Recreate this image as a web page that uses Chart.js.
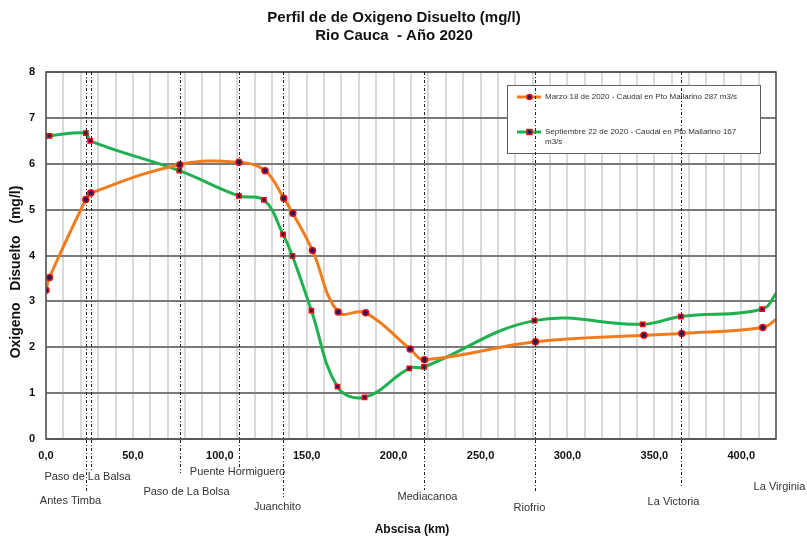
<!DOCTYPE html>
<html>
<head>
<meta charset="utf-8">
<script src="https://cdn.jsdelivr.net/npm/chart.js@4.4.1/dist/chart.umd.min.js"></script>
<style>
  html, body { margin: 0; padding: 0; background: #fff; }
  #wrap { width: 807px; height: 541px; position: relative; }
</style>
</head>
<body>
<div id="wrap"><canvas id="odChart"></canvas></div>
<script>
// Perfil de OD - Rio Cauca 2020
const titleLines = ['Perfil de de Oxigeno Disuelto (mg/l)', 'Rio Cauca  - Año 2020'];
const xTitle = 'Abscisa (km)';
const yTitle = 'Oxigeno   Disuelto   (mg/l)';

const marchLabel = 'Marzo 18 de 2020 - Caudal en Pto Mallarino 287 m3/s';
const marchKm = [0, 2, 22.9, 25.8, 77, 111, 126, 136.8, 142, 153.3, 168.1, 183.9, 209.5, 217.7, 281.6, 344, 365.8, 412.4, 420.6];
const marchOD = [3.24, 3.52, 5.22, 5.36, 5.98, 6.03, 5.85, 5.25, 4.92, 4.11, 2.77, 2.75, 1.96, 1.73, 2.12, 2.26, 2.30, 2.43, 2.62];

const septLabel = 'Septiembre 22 de 2020 - Caudal en Pto Mallarino 167 m3/s';
const septKm = [0, 2, 22.9, 25.4, 76.7, 111, 125.4, 136.4, 141.8, 152.7, 167.7, 183.3, 209, 217.5, 281, 343.3, 365.3, 412, 420.6];
const septOD = [6.61, 6.61, 6.67, 6.50, 5.85, 5.30, 5.21, 4.46, 3.99, 2.80, 1.14, 0.91, 1.54, 1.57, 2.58, 2.50, 2.67, 2.83, 3.20];

const stationNames = ['Antes Timba', 'Paso de La Balsa', 'Paso de La Bolsa', 'Puente Hormiguero', 'Juanchito', 'Mediacanoa', 'Riofrio', 'La Victoria', 'La Virginia'];
const stationKm = [22.9, 25.8, 77, 111, 136.2, 217.5, 281.5, 365.5, 420];

const FONT = '"Liberation Sans", Arial, sans-serif';
const ORANGE = '#f07c1e';
const GREEN = '#1fb14f';
const MARK_FILL = '#1b1b63';
const MARK_EDGE = '#e01010';

// label placement for each station: [dx, label y, line end y]
const stationPlace = [
  [-16, 501, 493],
  [-4, 477, 472],
  [6, 492, 473],
  [-2, 472, 468],
  [-6, 507, 497],
  [3, 497, 490],
  [-6, 508, 493],
  [-8, 502, 487],
  [3, 487, 0]
];

function toPoints(xs, ys) {
  return xs.map((x, i) => ({ x: x, y: ys[i] }));
}

const lastHidden = (n) => (ctx) => ctx.dataIndex === n - 1 ? 0 : 3;

const overlay = {
  id: 'overlay',
  afterDatasetsDraw(chart) {
    const { ctx, chartArea: a, scales } = chart;
    const xs = scales.x;

    // plot frame
    ctx.save();
    ctx.strokeStyle = '#505050';
    ctx.lineWidth = 1.5;
    ctx.strokeRect(a.left, a.top, a.right - a.left, a.bottom - a.top);

    // legend box
    const lx = 507, ly = 85, lw = 253, lh = 68;
    ctx.fillStyle = '#fff';
    ctx.fillRect(lx, ly, lw, lh);
    ctx.strokeStyle = '#606060';
    ctx.lineWidth = 1;
    ctx.strokeRect(lx + 0.5, ly + 0.5, lw, lh);
    const rows = [
      { color: ORANGE, y: 97, lines: [marchLabel], style: 'circle' },
      { color: GREEN, y: 132, lines: ['Septiembre 22 de 2020 - Caudal en Pto Mallarino 167', 'm3/s'], style: 'rect' }
    ];
    ctx.font = '8px ' + FONT;
    ctx.textBaseline = 'middle';
    ctx.textAlign = 'left';
    rows.forEach(r => {
      ctx.strokeStyle = r.color;
      ctx.lineWidth = 3;
      ctx.beginPath();
      ctx.moveTo(517, r.y);
      ctx.lineTo(541, r.y);
      ctx.stroke();
      ctx.fillStyle = MARK_FILL;
      ctx.strokeStyle = MARK_EDGE;
      ctx.lineWidth = 1.5;
      if (r.style === 'rect') {
        ctx.fillRect(527, r.y - 2.5, 5, 5);
        ctx.strokeRect(527, r.y - 2.5, 5, 5);
      } else {
        ctx.beginPath();
        ctx.arc(529.5, r.y, 2.5, 0, Math.PI * 2);
        ctx.fill();
        ctx.stroke();
      }
      ctx.fillStyle = '#333';
      r.lines.forEach((t, i) => ctx.fillText(t, 545, r.y + i * 10));
    });

    // station lines and names
    ctx.font = '11px ' + FONT;
    ctx.textAlign = 'center';
    stationKm.forEach((km, i) => {
      const px = Math.round(xs.getPixelForValue(km)) + 0.5;
      const [dx, ty, endY] = stationPlace[i];
      if (endY > 0) {
        ctx.strokeStyle = '#202020';
        ctx.lineWidth = 1;
        ctx.setLineDash([3, 2, 1, 2]);
        ctx.beginPath();
        ctx.moveTo(px, a.top);
        ctx.lineTo(px, endY);
        ctx.stroke();
        ctx.setLineDash([]);
      }
      ctx.fillStyle = '#333';
      ctx.fillText(stationNames[i], px + dx, ty);
    });

    // titles
    ctx.fillStyle = '#111';
    ctx.font = 'bold 15px ' + FONT;
    ctx.fillText(titleLines[0], 394, 18);
    ctx.fillText(titleLines[1], 394, 36);
    ctx.font = 'bold 12px ' + FONT;
    ctx.fillText(xTitle, 412, 530);
    ctx.font = 'bold 14px ' + FONT;
    ctx.translate(16, 272);
    ctx.rotate(-Math.PI / 2);
    ctx.fillText(yTitle, 0, 0);
    ctx.restore();
  }
};

new Chart(document.getElementById('odChart'), {
  type: 'line',
  data: {
    datasets: [
      {
        label: marchLabel,
        data: toPoints(marchKm, marchOD),
        borderColor: ORANGE,
        borderWidth: 3,
        tension: 0.4,
        pointStyle: 'circle',
        pointRadius: lastHidden(marchKm.length),
        pointBackgroundColor: MARK_FILL,
        pointBorderColor: MARK_EDGE,
        pointBorderWidth: 1.5
      },
      {
        label: septLabel,
        data: toPoints(septKm, septOD),
        borderColor: GREEN,
        borderWidth: 3,
        tension: 0.4,
        pointStyle: 'rect',
        pointRadius: lastHidden(septKm.length),
        pointBackgroundColor: MARK_FILL,
        pointBorderColor: MARK_EDGE,
        pointBorderWidth: 1.5
      }
    ]
  },
  options: {
    responsive: true,
    maintainAspectRatio: false,
    animation: false,
    layout: { padding: { top: 72, right: 31, left: 0, bottom: 0 } },
    plugins: {
      legend: { display: false },
      tooltip: { enabled: false }
    },
    scales: {
      x: {
        type: 'linear',
        min: 0,
        max: 420,
        afterFit: (s) => { s.height = 102; },
        border: { display: false },
        grid: { color: '#dadada', lineWidth: 2, drawTicks: false },
        ticks: {
          stepSize: 10,
          autoSkip: false,
          maxRotation: 0,
          padding: 10,
          color: '#111',
          font: { family: FONT, size: 11, weight: 'bold' },
          callback: (v) => v % 50 === 0 ? v.toFixed(1).replace('.', ',') : ''
        }
      },
      y: {
        min: 0,
        max: 8,
        afterFit: (s) => { s.width = 46; },
        border: { display: false },
        grid: { color: '#7a7a7a', lineWidth: 2, drawTicks: false },
        ticks: {
          stepSize: 1,
          padding: 11,
          color: '#111',
          font: { family: FONT, size: 11, weight: 'bold' }
        }
      }
    }
  },
  plugins: [overlay]
});
</script>
</body>
</html>
